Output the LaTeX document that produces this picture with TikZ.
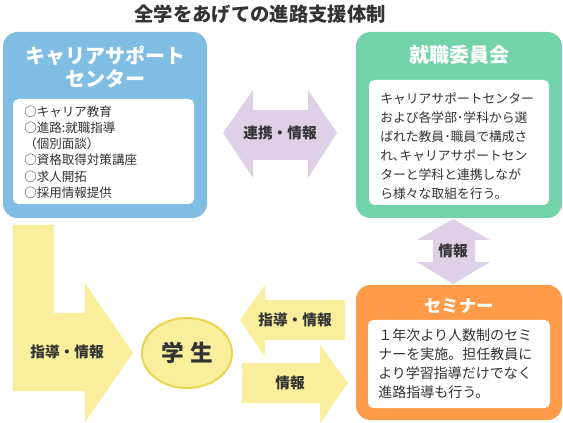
\documentclass[tikz,border=0pt]{standalone}
\usepackage{fontspec}
\setmainfont{Noto Sans CJK JP}
\definecolor{skyblue}{RGB}{127,189,227}
\definecolor{mint}{RGB}{114,211,170}
\definecolor{tangerine}{RGB}{255,154,72}
\definecolor{lilac}{RGB}{222,208,230}
\definecolor{butter}{RGB}{248,238,156}
\definecolor{mustard}{RGB}{236,212,80}
\definecolor{ink}{RGB}{51,51,51}

\begin{document}
\begin{tikzpicture}[x=0.75pt, y=-0.75pt,
    boxhead/.style={text=white, align=center, font=\bfseries\fontsize{15}{17}\selectfont},
    boxbody/.style={text=ink, align=left, anchor=west, inner sep=0pt},
    tag/.style={text=ink, font=\bfseries\fontsize{11}{13}\selectfont}]
            \useasboundingbox (0,0) rectangle (563,423);
            % title
            \node[text=ink, font=\bfseries\fontsize{14.5}{17}\selectfont] (title) at (260,14) {全学をあげての進路支援体制};
            % boxes
            \fill[skyblue, rounded corners=11pt]   (  3, 32) rectangle (207,218);
            \fill[white,   rounded corners=4pt]    ( 13, 99) rectangle (194,204);
            \fill[mint,    rounded corners=11pt]   (356, 32) rectangle (562,218);
            \fill[white,   rounded corners=4pt]    (369, 80) rectangle (549,205);
            \fill[tangerine, rounded corners=11pt] (356,285) rectangle (562,420);
            \fill[white,   rounded corners=4pt]    (368,320) rectangle (550,408);
            \node[boxhead] (careerhead) at (105,67) {キャリアサポート\\センター};
            \node[boxbody, font=\fontsize{9.4}{12.2}\selectfont] (careerlist) at (24,152)
                 {○キャリア教育\\○進路:就職指導\\（個別面談）\\○資格取得対策講座\\○求人開拓\\○採用情報提供};
            \node[boxhead] (boardhead) at (459,55) {就職委員会};
            \node[boxbody, font=\fontsize{9.6}{14.3}\selectfont] (boardtext) at (380,146)
                 {キャリアサポートセンター\\および各学部･学科から選\\ばれた教員･職員で構成さ\\れ､キャリアサポートセン\\ターと学科と連携しなが\\ら様々な取組を行う。};
            \node[boxhead, font=\bfseries\fontsize{13}{15}\selectfont] (seminarhead) at (459,306) {セミナー};
            \node[boxbody, font=\fontsize{10.5}{14.2}\selectfont] (seminartext) at (378,364)
                 {１年次より人数制のセミ\\ナーを実施。担任教員に\\より学習指導だけでなく\\進路指導も行う。};
            % arrows
            \fill[lilac]  (223,133) -- (253, 90) -- (253,110) -- (308,110) -- (308, 90) -- (337,133)
                       -- (308,178) -- (308,160) -- (253,160) -- (253,178) -- cycle;
            \fill[lilac]  (453,219) -- (490,240) -- (475,240) -- (475,262) -- (490,262) -- (453,284)
                       -- (417,262) -- (433,262) -- (433,240) -- (417,240) -- cycle;
            \fill[butter] (240,320) -- (265,285) -- (265,300) -- (345,300) -- (345,340) -- (265,340)
                       -- (265,357) -- cycle;
            \fill[butter] (242,363) -- (320,363) -- (320,345) -- (348,383) -- (320,423) -- (320,403)
                       -- (242,403) -- cycle;
            \fill[butter] ( 13,225) -- ( 54,225) -- ( 54,313) -- ( 85,313) -- ( 85,283) -- (133,353)
                       -- ( 85,422) -- ( 85,391) -- ( 13,391) -- cycle;
            \node[tag] (linkinfo)  at (280,133) {連携・情報};
            \node[tag] (boardinfo) at (453,251) {情報};
            \node[tag] (backinfo)  at (295,320) {指導・情報};
            \node[tag] (sendinfo)  at (290,383) {情報};
            \node[tag] (guideinfo) at ( 67,352) {指導・情報};
            % student
            \filldraw[color=mustard, fill=butter, line width=1.5pt] (187,353) ellipse (45 and 35);
            \node[text=ink, font=\bfseries\fontsize{17}{19}\selectfont] (student) at (187,353) {学\hspace{5pt}生};
\end{tikzpicture}
\end{document}
